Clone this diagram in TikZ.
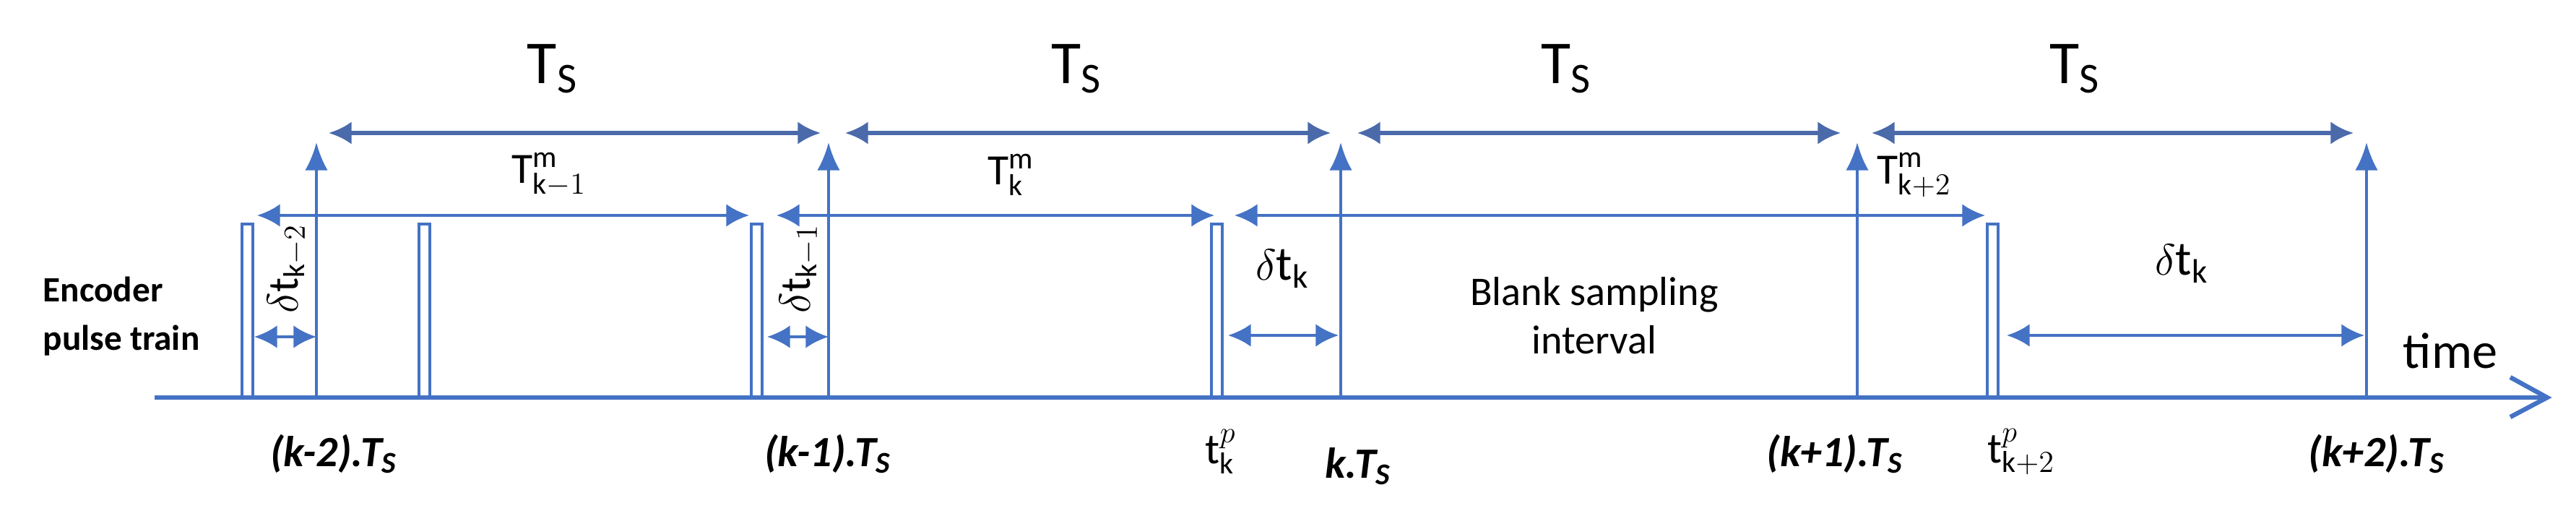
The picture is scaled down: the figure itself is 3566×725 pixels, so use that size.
\documentclass[tikz,border=0pt]{standalone}
\usepackage{fontspec}
\setmainfont{Carlito}
\usetikzlibrary{arrows.meta}
\definecolor{lb}{HTML}{4472C4}
\definecolor{db}{HTML}{4A6AAA}
\begin{document}
\begin{tikzpicture}[x=0.01cm,y=-0.01cm,
  ln/.style={lb,line width=1.2pt},
  dim/.style={ln,{Latex[length=9pt,width=9pt]}-{Latex[length=9pt,width=9pt]}},
  dimt/.style={db,line width=1.6pt,{Latex[length=9pt,width=9pt]}-{Latex[length=9pt,width=9pt]}},
  up/.style={ln,-{Latex[length=11pt,width=9pt]}},
  pulse/.style={lb,line width=1.1pt},
  ts/.style={font=\fontsize{24}{26}\selectfont},
  mth/.style={font=\fontsize{17}{19}\selectfont},
  bl/.style={font=\fontsize{17}{19}\selectfont\bfseries\itshape},
  txt/.style={font=\fontsize{16}{19}\selectfont,align=center}]
\useasboundingbox (0,0) rectangle (3566,725);
% axis
\coordinate (a0) at (214,550); \coordinate (a1) at (3526,550);
\draw[lb,line width=1.8pt] (a0) -- (a1);
\draw[lb,line width=1.8pt] (3475,522) -- (a1) -- (3475,577);
\node[font=\fontsize{20}{22}\selectfont,anchor=base] (time) at (3392,510) {time};
% sample instants
\foreach \n/\x in {s1/438,s2/1147,s3/1856,s4/2571,s5/3276}{
  \coordinate (\n b) at (\x,550); \coordinate (\n t) at (\x,197);
  \draw[up] (\n b) -- (\n t);}
% pulses
\foreach \x in {335,580,1040,1677,2751}{
  \draw[pulse] (\x,550) -- (\x,310) -- (\x+15,310) -- (\x+15,550);}
% Ts arrows
\foreach \a/\b/\c in {455/1136/765, 1170/1842/1490, 1879/2548/2168, 2591/3258/2872}{
  \coordinate (ta) at (\a,184); \coordinate (tb) at (\b,184);
  \draw[dimt] (ta) -- (tb);
  \node[ts] at (\c,95) {T\textsubscript{S}};}
% Tm arrows
\coordinate (m1a) at (356,298); \coordinate (m1b) at (1037,298);
\coordinate (m2a) at (1075,298); \coordinate (m2b) at (1681,298);
\coordinate (m3a) at (1709,298); \coordinate (m3b) at (2748,298);
\draw[dim] (m1a) -- (m1b); \draw[dim] (m2a) -- (m2b); \draw[dim] (m3a) -- (m3b);
\node[mth] at (760,242) {$\mathrm{T}^{\mathrm{m}}_{\mathrm{k}-1}$};
\node[mth] at (1400,242) {$\mathrm{T}^{\mathrm{m}}_{\mathrm{k}}$};
\node[mth] at (2650,242) {$\mathrm{T}^{\mathrm{m}}_{\mathrm{k}+2}$};
% delta arrows
\coordinate (d1a) at (352,466); \coordinate (d1b) at (438,466);
\coordinate (d2a) at (1062,466); \coordinate (d2b) at (1147,466);
\coordinate (d3a) at (1700,464); \coordinate (d3b) at (1853,464);
\coordinate (d4a) at (2778,464); \coordinate (d4b) at (3273,464);
\draw[dim] (d1a) -- (d1b); \draw[dim] (d2a) -- (d2b);
\draw[dim] (d3a) -- (d3b); \draw[dim] (d4a) -- (d4b);
\node[mth,rotate=90] at (398,372) {$\delta\mathrm{t}_{\mathrm{k}-2}$};
\node[mth,rotate=90] at (1107,372) {$\delta\mathrm{t}_{\mathrm{k}-1}$};
\node[font=\fontsize{19}{21}\selectfont] at (1775,372) {$\delta\mathrm{t}_{\mathrm{k}}$};
\node[font=\fontsize{19}{21}\selectfont] at (3020,365) {$\delta\mathrm{t}_{\mathrm{k}}$};
% texts
\node[txt,font=\fontsize{14}{19}\selectfont\bfseries,align=left] (enc) at (168,438) {Encoder\\pulse train};
\node[txt] (blank) at (2207,437) {Blank sampling\\interval};
% bottom labels
\node[bl] at (462,628) {(k-2).T\textsubscript{S}};
\node[bl] at (1146,628) {(k-1).T\textsubscript{S}};
\node[bl] at (1880,645) {k.T\textsubscript{S}};
\node[bl] at (2540,628) {(k+1).T\textsubscript{S}};
\node[bl] at (3290,628) {(k+2).T\textsubscript{S}};
\node[mth] at (1690,625) {$\mathrm{t}^{p}_{\mathrm{k}}$};
\node[mth] at (2798,625) {$\mathrm{t}^{p}_{\mathrm{k}+2}$};
\end{tikzpicture}
\end{document}
